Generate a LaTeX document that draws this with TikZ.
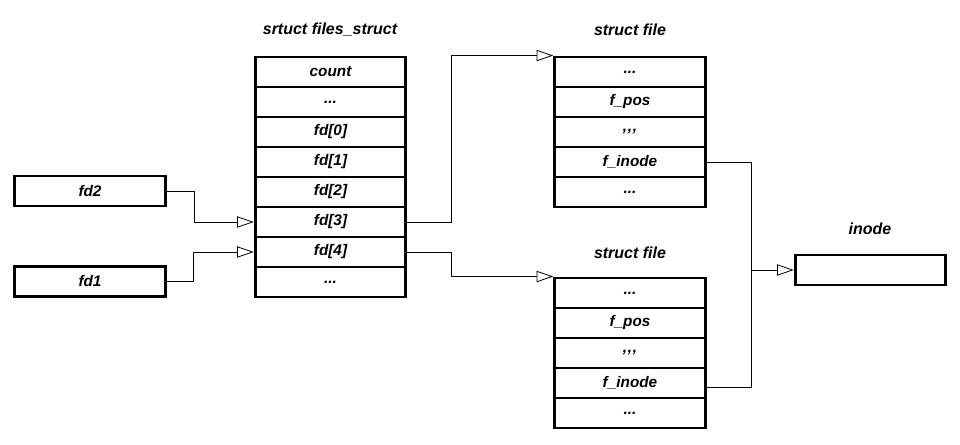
\documentclass[tikz,border=0pt]{standalone}
\usepackage{fontspec}
\setmainfont{Liberation Sans}
\usetikzlibrary{arrows.meta,positioning}
\newcommand\fielddots{...}
\newcommand\fieldcommas{,\kern.5pt,\kern.5pt,}

\begin{document}
\begin{tikzpicture}[x=.75pt,y=-.75pt,
        cell/.style={draw, line width=2.2pt, minimum width=113pt, minimum height=22.5pt,
                     inner sep=0pt, font=\fontsize{11.5}{13}\selectfont\bfseries\itshape},
        title/.style={inner sep=0pt, font=\fontsize{12}{14}\selectfont\bfseries\itshape},
        link/.style={line width=.6pt, -{Triangle[open,length=12.5pt,width=8.5pt]}},
        wire/.style={line width=.6pt}]
        \useasboundingbox (0,0) rectangle (960,444);

        \foreach \txt [count=\i] in {count,\fielddots,fd[0],fd[1],fd[2],fd[3],fd[4],\fielddots}
          \node[cell] (fs\i) at (330.5,{72+30*(\i-1)}) {\txt};
        \foreach \txt [count=\i] in {\fielddots,f\_pos,\fieldcommas,f\_inode,\fielddots}
          \node[cell] (fa\i) at (630,{72+30*(\i-1)}) {\txt};
        \foreach \txt [count=\i] in {\fielddots,f\_pos,\fieldcommas,f\_inode,\fielddots}
          \node[cell] (fb\i) at (630,{293+30*(\i-1)}) {\txt};

        \node[cell] (fd2) at (90,191)   {fd2};
        \node[cell] (fd1) at (90,281.5) {fd1};
        \node[cell] (ino) at (870.5,270) {};

        \node[title] at (330,30)  {srtuct files\_struct};
        \node[title] at (630,30)  {struct file};
        \node[title] at (630,253) {struct file};
        \node[title] at (870,229) {inode};

        \draw[link] (fd2.east) -- ++(28,0) |- (fs6.west);
        \draw[link] (fd1.east) -- ++(27,0) |- (fs7.west);
        \draw[link] (fs6.east) -- ++(44,0) |- (fa1.north west);
        \draw[link] (fs7.east) -- ++(44,0) |- (fb1.north west);
        \draw[wire] (fa4.east) -- ++(45,0) coordinate (fj) |- ([yshift=-3pt]fb4.east);
        \draw[link] (fj |- ino.west) -- (ino.west);
      \end{tikzpicture}
\end{document}
